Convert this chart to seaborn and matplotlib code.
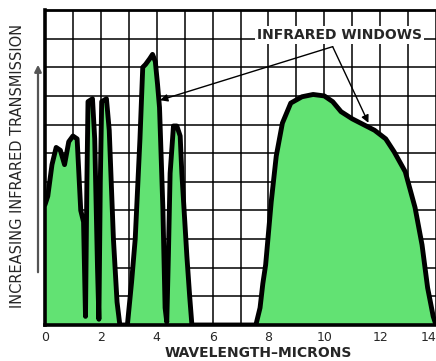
import matplotlib
matplotlib.use("Agg")
import matplotlib.pyplot as plt
import numpy as np
import pandas as pd
import seaborn as sns

# Atmospheric transmission curve (wavelength in microns, relative transmission)
wavelength = [
    0.0, 0.1, 0.25, 0.4, 0.55, 0.7, 0.85, 1.0, 1.15, 1.28, 1.38, 1.45,
    1.5, 1.54, 1.7, 1.78, 1.88, 1.93, 1.98, 2.03, 2.2, 2.3, 2.45, 2.58, 2.68,
    2.95, 3.1, 3.23, 3.4, 3.5, 3.6, 3.75, 3.85, 3.95, 4.03, 4.1, 4.22, 4.3, 4.36,
    4.42, 4.48, 4.6, 4.72, 4.84, 4.9, 5.0, 5.08, 5.18, 5.26,
    7.55, 7.7, 7.8, 7.9, 8.1, 8.28, 8.5, 8.8, 9.2, 9.6, 10.0, 10.3, 10.6,
    11.0, 11.3, 11.8, 12.2, 12.5, 12.9, 13.25, 13.5, 13.7, 13.9, 14.0,
]
transmission = [
    4.2, 4.5, 5.6, 6.2, 6.1, 5.6, 6.4, 6.6, 6.5, 4.0, 3.6, 0.3,
    5.0, 7.8, 7.9, 6.5, 2.0, 0.2, 5.0, 7.8, 7.9, 6.8, 3.0, 0.8, 0.0,
    0.0, 1.5, 3.0, 6.5, 9.0, 9.1, 9.3, 9.45, 9.2, 8.4, 7.6, 4.1, 0.6, 0.1,
    2.5, 5.3, 6.95, 6.95, 6.6, 5.3, 3.7, 2.4, 1.0, 0.0,
    0.0, 0.6, 1.45, 2.1, 4.3, 5.9, 7.05, 7.75, 7.97, 8.05, 8.0, 7.8, 7.45,
    7.2, 7.05, 6.8, 6.5, 6.05, 5.35, 4.1, 2.8, 1.3, 0.3, 0.0,
]

tick_positions = [0, 2, 4, 6, 8, 10, 12, 14]
tick_labels = ["0", "2", "4", "6", "8", "10", "12", "14"]

window_label = "INFRARED WINDOWS"
label_anchor = (10.3, 9.72)
arrow_tips = [(4.12, 7.85), (11.58, 7.06)]

df = pd.DataFrame({"wavelength": wavelength, "transmission": transmission})

sns.set_style("white")
plt.rcParams["font.family"] = ["DejaVu Sans"]

fig = plt.figure(figsize=(4.36, 3.61), dpi=100)
ax = fig.add_axes([45 / 436, 36 / 361, 391 / 436, 315 / 361])

green = "#62e273"
ax.fill_between(df["wavelength"], 0, df["transmission"], color=green,
                linewidth=0, zorder=1)
sns.lineplot(data=df, x="wavelength", y="transmission", sort=False,
             color="black", linewidth=3.5, ax=ax, zorder=3,
             solid_joinstyle="round")

ax.set_xlim(0, 14)
ax.set_ylim(0, 11)
ax.set_xticks(tick_positions)
ax.set_xticklabels(tick_labels, fontsize=9)
ax.get_xticklabels()[-1].set_horizontalalignment("right")
ax.set_xticks(np.arange(0, 15, 1), minor=True)
ax.set_yticks(np.arange(0, 12, 1))
ax.set_yticklabels([])
ax.tick_params(axis="both", which="both", length=0, pad=4)
ax.grid(True, which="both", color="black", linewidth=1.1)
for line in ax.get_xgridlines() + ax.get_ygridlines():
    line.set_zorder(2)
ax.set_xlabel("")
ax.set_ylabel("")

for side in ("left", "bottom"):
    ax.spines[side].set_linewidth(2.6)
    ax.spines[side].set_color("black")
ax.spines["top"].set_linewidth(2.0)
ax.spines["top"].set_color("black")
ax.spines["right"].set_visible(False)

ax.text(10.55, 10.14, window_label, fontsize=10, fontweight="bold",
        ha="center", va="center", zorder=5,
        bbox=dict(facecolor="white", edgecolor="none", pad=1.5))
for tip in arrow_tips:
    ax.annotate("", xy=tip, xytext=label_anchor, zorder=5,
                arrowprops=dict(arrowstyle="-|>", color="black", lw=1.0,
                                mutation_scale=11, shrinkA=0, shrinkB=0))

# axis titles and the upward arrow beside the vertical title
fig.text(18 / 436, 1 - 166 / 361, "INCREASING INFRARED TRANSMISSION",
         rotation=90, ha="center", va="center", fontsize=10.5)
fig.text(258 / 436, 1 - 353 / 361, "WAVELENGTH\u2013MICRONS",
         ha="center", va="center", fontsize=10, fontweight="bold")
fig.add_artist(matplotlib.patches.FancyArrowPatch(
    (38 / 436, 1 - 275 / 361), (38 / 436, 1 - 62 / 361),
    transform=fig.transFigure, arrowstyle="-|>", mutation_scale=10,
    color="#555555", lw=1.6))

fig.savefig("out.png", dpi=100)
